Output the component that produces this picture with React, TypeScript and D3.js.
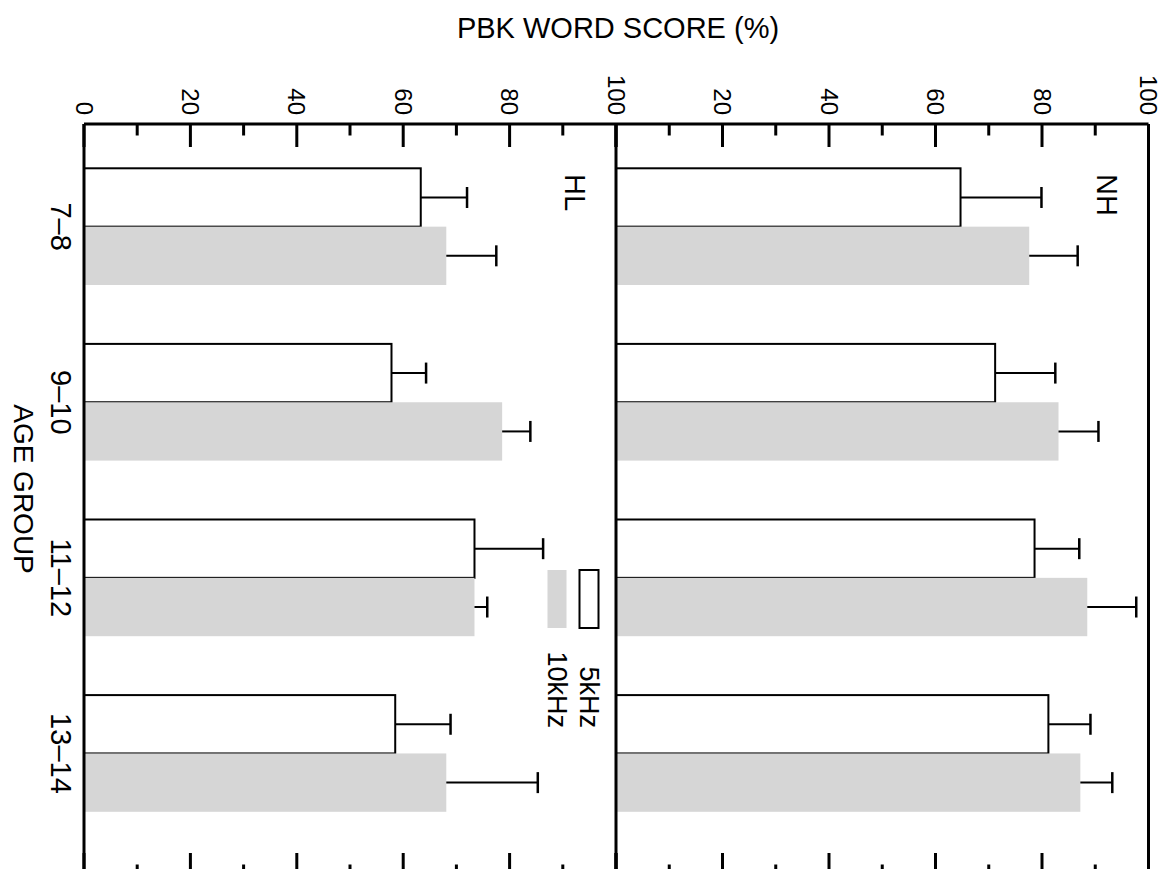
import React from "react";
import * as d3 from "d3";

const categories = ["7–8", "9–10", "11–12", "13–14"];
const seriesNames = ["5kHz", "10kHz"];
const panels = ["HL", "NH"];

const hl5 = [63.3, 57.8, 73.4, 58.5];
const hl5Err = [8.7, 6.5, 12.9, 10.4];
const hl10 = [68.1, 78.6, 73.4, 68.1];
const hl10Err = [9.4, 5.3, 2.4, 17.2];
const nh5 = [64.7, 71.2, 78.6, 81.2];
const nh5Err = [15.2, 11.3, 8.4, 7.9];
const nh10 = [77.6, 83.1, 88.5, 87.2];
const nh10Err = [9.1, 7.5, 9.2, 6.0];

const majorTicks = [0, 20, 40, 60, 80, 100];
const minorTicks = [10, 30, 50, 70, 90];

const W = 1171;
const H = 869;
const FONT = "'Liberation Sans', Arial, sans-serif";
const GRAY = "#d6d6d6";

export default function App() {
  const xHL = d3.scaleLinear().domain([0, 100]).range([84, 616]);
  const xNH = d3.scaleLinear().domain([0, 100]).range([616, 1148.5]);
  const panelScales = [xHL, xNH];
  const panelData = [
    [
      { vals: hl5, errs: hl5Err },
      { vals: hl10, errs: hl10Err },
    ],
    [
      { vals: nh5, errs: nh5Err },
      { vals: nh10, errs: nh10Err },
    ],
  ];

  const y = d3
    .scaleBand<string>()
    .domain(categories)
    .range([168.3, 811.8])
    .paddingInner(0.3354)
    .paddingOuter(0);
  const ySub = d3
    .scaleBand<string>()
    .domain(seriesNames)
    .range([0, y.bandwidth()])
    .padding(0);

  const axisTop = 124;
  const axisBottom = 876;
  const majorLen = 23;
  const minorLen = 11.5;
  const capHalf = 10.5;

  const rot = (x: number, yy: number) => `translate(${x},${yy}) rotate(90)`;

  return (
    <svg
      width={W}
      height={H}
      style={{ position: "absolute", left: 0, top: 0, background: "#fff" }}
      fontFamily={FONT}
    >
      <rect x={0} y={0} width={W} height={H} fill="#fff" />
      {/* Title */}
      <text x={618} y={38} fontSize={29} textAnchor="middle" fill="#000">
        PBK WORD SCORE (%)
      </text>

      {/* Bars */}
      {panelScales.map((xs, pi) => (
        <g key={"p" + pi}>
          {panelData[pi].map((s, si) =>
            categories.map((c, ci) => {
              const y0 = (y(c) as number) + (ySub(seriesNames[si]) as number);
              const h = ySub.bandwidth();
              const v = s.vals[ci];
              const x0 = xs(0);
              const x1 = xs(v);
              const xe = xs(v + s.errs[ci]);
              const yc = y0 + h / 2;
              return (
                <g key={`b${pi}-${si}-${ci}`}>
                  {si === 1 ? (
                    <rect x={x0} y={y0} width={x1 - x0} height={h} fill={GRAY} />
                  ) : (
                    <rect
                      x={x0}
                      y={y0}
                      width={x1 - x0}
                      height={h}
                      fill="#fff"
                      stroke="#000"
                      strokeWidth={2}
                    />
                  )}
                  <line x1={x1} x2={xe} y1={yc} y2={yc} stroke="#000" strokeWidth={2} />
                  <line x1={xe} x2={xe} y1={yc - capHalf} y2={yc + capHalf} stroke="#000" strokeWidth={2.5} />
                </g>
              );
            })
          )}
          {/* Panel label */}
          <text
            transform={rot(xs(92.3), 174)}
            fontSize={29}
            textAnchor="start"
            dy="0.35em"
            fill="#000"
          >
            {panels[pi]}
          </text>
        </g>
      ))}

      {/* Frame lines */}
      <line x1={xHL(0)} x2={xNH(100)} y1={axisTop} y2={axisTop} stroke="#000" strokeWidth={3} />
      <line x1={xHL(0)} x2={xNH(100)} y1={axisBottom} y2={axisBottom} stroke="#000" strokeWidth={3} />
      {[xHL(0), xNH(0), xNH(100)].map((xx, i) => (
        <line key={"v" + i} x1={xx} x2={xx} y1={axisTop} y2={axisBottom} stroke="#000" strokeWidth={3} />
      ))}

      {/* Ticks */}
      {panelScales.map((xs, pi) => (
        <g key={"t" + pi}>
          {majorTicks.map((t) => (
            <g key={"M" + t}>
              <line x1={xs(t)} x2={xs(t)} y1={axisTop} y2={axisTop + majorLen} stroke="#000" strokeWidth={3} />
              <line x1={xs(t)} x2={xs(t)} y1={axisBottom} y2={axisBottom - majorLen} stroke="#000" strokeWidth={3} />
            </g>
          ))}
          {minorTicks.map((t) => (
            <g key={"m" + t}>
              <line x1={xs(t)} x2={xs(t)} y1={axisTop} y2={axisTop + minorLen} stroke="#000" strokeWidth={3} />
              <line x1={xs(t)} x2={xs(t)} y1={axisBottom} y2={axisBottom - minorLen} stroke="#000" strokeWidth={3} />
            </g>
          ))}
          {majorTicks
            .filter((t) => !(pi === 1 && t === 0))
            .map((t) => (
              <text
                key={"l" + t}
                transform={rot(xs(t), 115)}
                fontSize={24}
                textAnchor="end"
                dy="0.35em"
                fill="#000"
              >
                {t}
              </text>
            ))}
        </g>
      ))}

      {/* Category labels */}
      {categories.map((c) => (
        <text
          key={"c" + c}
          transform={rot(61, (y(c) as number) + y.bandwidth() / 2)}
          fontSize={29}
          textAnchor="middle"
          dy="0.35em"
          fill="#000"
        >
          {c}
        </text>
      ))}
      <text transform={rot(24, 489)} fontSize={28} textAnchor="middle" dy="0.35em" fill="#000">
        AGE GROUP
      </text>

      {/* Legend */}
      <rect x={579.5} y={570} width={19} height={58} fill="#fff" stroke="#000" strokeWidth={2} />
      <rect x={547.5} y={570} width={19} height={58} fill={GRAY} />
      <text transform={rot(589, 728)} fontSize={27} textAnchor="end" dy="0.35em" fill="#000">
        {seriesNames[0]}
      </text>
      <text transform={rot(557, 728)} fontSize={27} textAnchor="end" dy="0.35em" fill="#000">
        {seriesNames[1]}
      </text>
    </svg>
  );
}
